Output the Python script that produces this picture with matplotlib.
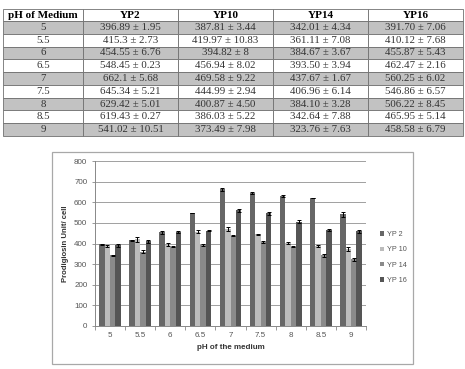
import matplotlib.pyplot as plt
import numpy as np
from matplotlib.patches import Rectangle

W, H = 465, 369

ph = ['5', '5.5', '6', '6.5', '7', '7.5', '8', '8.5', '9']
strains = ['YP2', 'YP10', 'YP14', 'YP16']
legend_names = ['YP 2', 'YP 10', 'YP 14', 'YP 16']

yp2 = [396.89, 415.3, 454.55, 548.45, 662.1, 645.34, 629.42, 619.43, 541.02]
yp2_sd = [1.95, 2.73, 6.76, 0.23, 5.68, 5.21, 5.01, 0.27, 10.51]
yp10 = [387.81, 419.97, 394.82, 456.94, 469.58, 444.99, 400.87, 386.03, 373.49]
yp10_sd = [3.44, 10.83, 8, 8.02, 9.22, 2.94, 4.50, 5.22, 7.98]
yp14 = [342.01, 361.11, 384.67, 393.50, 437.67, 406.96, 384.10, 342.64, 323.76]
yp14_sd = [4.34, 7.08, 3.67, 3.94, 1.67, 6.14, 3.28, 7.88, 7.63]
yp16 = [391.70, 410.12, 455.87, 462.47, 560.25, 546.86, 506.22, 465.95, 458.58]
yp16_sd = [7.06, 7.68, 5.43, 2.16, 6.02, 6.57, 8.45, 5.14, 6.79]

# table text as printed
cell_text = [
    ['396.89 ± 1.95', '387.81 ± 3.44', '342.01 ± 4.34', '391.70 ± 7.06'],
    ['415.3 ± 2.73', '419.97 ± 10.83', '361.11 ± 7.08', '410.12 ± 7.68'],
    ['454.55 ± 6.76', '394.82 ± 8', '384.67 ± 3.67', '455.87 ± 5.43'],
    ['548.45 ± 0.23', '456.94 ± 8.02', '393.50 ± 3.94', '462.47 ± 2.16'],
    ['662.1 ± 5.68', '469.58 ± 9.22', '437.67 ± 1.67', '560.25 ± 6.02'],
    ['645.34 ± 5.21', '444.99 ± 2.94', '406.96 ± 6.14', '546.86 ± 6.57'],
    ['629.42 ± 5.01', '400.87 ± 4.50', '384.10 ± 3.28', '506.22 ± 8.45'],
    ['619.43 ± 0.27', '386.03 ± 5.22', '342.64 ± 7.88', '465.95 ± 5.14'],
    ['541.02 ± 10.51', '373.49 ± 7.98', '323.76 ± 7.63', '458.58 ± 6.79'],
]


def fig_box(x0, y0, x1, y1):
    # pixel box (top-left origin) -> figure fraction rect
    return [x0 / W, 1 - y1 / H, (x1 - x0) / W, (y1 - y0) / H]


plt.rcParams['font.family'] = ['Liberation Sans', 'DejaVu Sans']

fig = plt.figure(figsize=(W / 100, H / 100), dpi=100)
fig.patch.set_facecolor('white')

# ---- table ----
tax = fig.add_axes(fig_box(3, 9, 463, 136))
tax.axis('off')
rows = [['pH of Medium'] + strains] + [[p] + r for p, r in zip(ph, cell_text)]
col_w = [80, 95, 95, 95, 95]
col_w = [c / sum(col_w) for c in col_w]
tbl = tax.table(cellText=rows, colWidths=col_w, cellLoc='center',
                bbox=[0, 0, 1, 1])
tbl.auto_set_font_size(False)
head_h = 12 / 127
row_h = (1 - head_h) / 9
for (r, c), cell in tbl.get_celld().items():
    cell.set_height(head_h if r == 0 else row_h)
    cell.set_edgecolor('#707070')
    cell.set_linewidth(0.6)
    txt = cell.get_text()
    txt.set_fontfamily('Liberation Serif')
    txt.set_fontsize(7.8)
    txt.set_color('#333333')
    if r == 0:
        txt.set_fontweight('bold')
        txt.set_fontsize(8)
        txt.set_color('black')
        cell.set_facecolor('white')
    elif r % 2 == 1:
        cell.set_facecolor('#c2c2c2')
    else:
        cell.set_facecolor('white')

# ---- chart frame ----
frame = Rectangle((52 / W, 1 - 364 / H), 361 / W, 212 / H,
                  transform=fig.transFigure, facecolor='white',
                  edgecolor='#a8a8a8', linewidth=0.9, zorder=-1)
fig.patches.append(frame)

ax = fig.add_axes(fig_box(95, 161, 366, 326))
ax.patch.set_alpha(0)
x = np.arange(len(ph))
bw = 0.18
colors = ['#676767', '#bcbcbc', '#8a8a8a', '#555555']
series = [(yp2, yp2_sd), (yp10, yp10_sd), (yp14, yp14_sd), (yp16, yp16_sd)]
for i, (vals, sd) in enumerate(series):
    ax.bar(x + (i - 1.5) * bw, vals, bw, color=colors[i], label=legend_names[i],
           yerr=sd, error_kw=dict(ecolor='black', elinewidth=0.7,
                                  capsize=1.6, capthick=0.7), zorder=3)

ax.set_xlim(-0.5, len(ph) - 0.5)
ax.set_ylim(0, 800)
ax.set_yticks(np.arange(0, 801, 100))
ax.yaxis.grid(True, color='#a0a0a0', linewidth=0.7, zorder=0)
ax.set_axisbelow(True)
ax.set_xticks(x)
ax.set_xticklabels(ph)
ax.set_xticks(np.arange(-0.5, len(ph)), minor=True)
ax.tick_params(axis='x', which='major', length=0, labelsize=5.8,
               labelcolor='#555555', pad=4)
ax.tick_params(axis='x', which='minor', length=3, color='#888888', width=0.6)
ax.tick_params(axis='y', length=2.5, color='#888888', width=0.6,
               labelsize=5.8, labelcolor='#555555', pad=3)
for side in ['top', 'right']:
    ax.spines[side].set_visible(False)
for side in ['left', 'bottom']:
    ax.spines[side].set_color('#888888')
    ax.spines[side].set_linewidth(0.7)

ax.set_xlabel('pH of the medium', fontsize=5.8, fontweight='bold',
              color='#333333', labelpad=4)
ax.set_ylabel('Prodigiosin Unit/ cell', fontsize=5.6, fontweight='bold',
              color='#333333', labelpad=4)

leg = ax.legend(loc='center left', bbox_to_anchor=(1.04, 0.415), frameon=False,
                fontsize=5.2, handlelength=0.6, handleheight=0.6,
                handletextpad=0.4, labelspacing=1.15, borderaxespad=0)
for t in leg.get_texts():
    t.set_color('#555555')

fig.savefig('out.png', dpi=100, facecolor='white')
